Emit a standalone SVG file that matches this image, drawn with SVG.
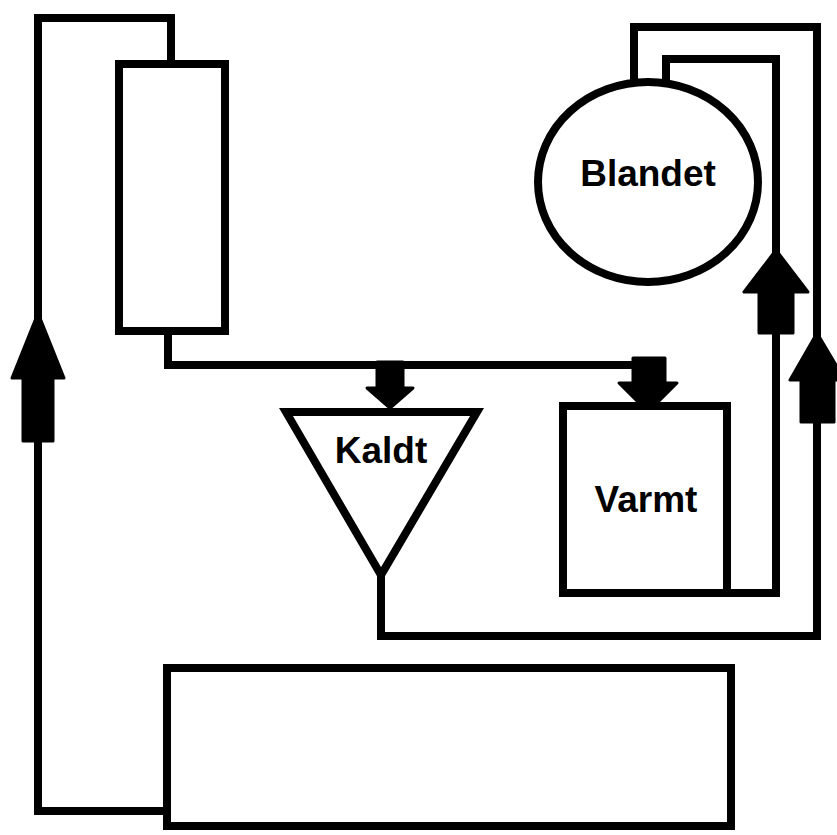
<svg xmlns="http://www.w3.org/2000/svg" width="837" height="835" viewBox="0 0 837 835">
<style>
.shape{fill:#fff;stroke:#000;stroke-width:8;stroke-linejoin:miter}
.line{fill:none;stroke:#000;stroke-width:8;stroke-linejoin:miter;stroke-linecap:square}
.arrow{fill:#000;stroke:#000;stroke-width:3;stroke-linejoin:round}
.label{font-family:"Liberation Sans",Arial,sans-serif;font-weight:bold;font-size:37px;fill:#000;text-anchor:middle}
</style>
<rect width="837" height="835" fill="#fff"/>
<g id="connectors">
<path class="line" d="M171,64 V18 H38 V811 H167"/>
<path class="line" d="M168,331 V365 H650"/>
<path class="line" d="M381,575 V636 H817 V27 H634 V80"/>
<path class="line" d="M727,593 H776 V59 H666 V80"/>
<path class="arrow" d="M38,313 L12,378 L23,378 L23,441 L53,441 L53,378 L64,378 Z"/>
<path class="arrow" d="M776,250 L744,292 L759,292 L759,333 L793,333 L793,292 L808,292 Z"/>
<path class="arrow" d="M817,333 L790,380 L801,380 L801,422 L834,422 L834,380 L845,380 Z"/>
<path class="arrow" d="M377,362 V388 H367 L390,408 L413,388 H403 V362 Z"/>
<path class="arrow" d="M633,358 V383 H619 L648,412 L677,383 H665 V358 Z"/>
</g>
<g id="node-left">
<rect class="shape" x="119" y="64" width="106" height="267"/>
</g>
<g id="node-bottom">
<rect class="shape" x="167" y="668" width="564" height="158"/>
</g>
<g id="node-kaldt">
<path class="shape" d="M286,412 L477,412 L381,575 Z"/>
<text class="label" x="381" y="463">Kaldt</text>
</g>
<g id="node-varmt">
<rect class="shape" x="563" y="406" width="164" height="187"/>
<text class="label" x="646" y="512">Varmt</text>
</g>
<g id="node-blandet">
<ellipse class="shape" cx="648" cy="182" rx="110" ry="100"/>
<text class="label" x="648" y="186">Blandet</text>
</g>
</svg>
